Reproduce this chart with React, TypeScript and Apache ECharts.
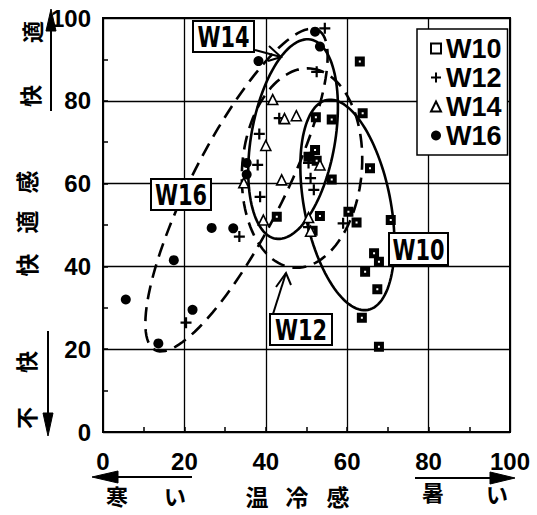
import React, { useEffect, useRef } from 'react';
import * as echarts from 'echarts';

// ---- data ----
const xTicks = [0, 20, 40, 60, 80, 100];
const yTicks = [0, 20, 40, 60, 80, 100];
const seriesNames = ['W10', 'W12', 'W14', 'W16'];

const w10: number[][] = [
  [63.1, 89.5], [63.8, 77.0], [56.2, 75.5], [52.3, 76.0], [52.1, 68.1], [50.5, 66.5],
  [52.5, 65.5], [65.6, 63.7], [56.2, 61.0], [53.3, 52.2], [51.5, 48.6], [42.7, 52.0],
  [60.3, 53.2], [62.3, 50.6], [70.7, 51.2], [66.6, 43.2], [67.8, 41.1], [64.4, 38.7],
  [67.4, 34.5], [63.6, 27.6], [67.8, 20.6],
];
const w12: number[][] = [
  [54.5, 97.5], [52.5, 87.0], [43.3, 75.8], [38.4, 72.0], [38.0, 64.5], [38.6, 56.8],
  [33.5, 47.2], [20.4, 26.4], [51.0, 61.3], [51.8, 58.5], [59.0, 50.4], [50.5, 49.5],
  [50.5, 65.0],
];
const w14: number[][] = [
  [41.7, 80.3], [44.6, 75.7], [47.5, 76.4], [40.0, 69.2], [43.9, 60.9], [34.6, 60.2],
  [53.3, 64.5], [39.4, 51.2], [50.5, 51.8], [51.0, 48.5],
];
const w16: number[][] = [
  [5.6, 32.0], [13.6, 21.4], [17.4, 41.5], [22.0, 29.5], [26.7, 49.3], [32.0, 49.2],
  [35.3, 62.2], [35.3, 65.0], [38.2, 89.6], [52.1, 96.7], [53.3, 93.1], [50.8, 66.5],
];

// ellipses: [topX, topY, bottomX, bottomY, halfWidth (x units)]
const ellipseNames = ['W10', 'W12', 'W14', 'W16'];
const ellipseData: number[][] = [
  [55.0, 80.2, 65.1, 29.5, 10.6],
  [51.0, 87.8, 46.8, 39.7, 14.7],
  [51.0, 94.8, 42.4, 46.7, 10.3],
  [52.8, 97.1, 12.8, 19.8, 11.3],
];
const ellipseDashed = [false, true, false, true];

const SANS = "'Liberation Sans', Arial, sans-serif";
const WIDE = "'DejaVu Sans', sans-serif";
const CJK = "'Noto Sans CJK JP', sans-serif";

const PLUS = 'path://M4,0H6V4H10V6H6V10H4V6H0V4H4Z';

function labelBox(x: number, y: number, w: number, h: number, text: string) {
  return {
    type: 'group',
    z: 100,
    children: [
      { type: 'rect', shape: { x, y, width: w, height: h }, style: { fill: '#fff', stroke: '#000', lineWidth: 2 }, z: 100 },
      {
        type: 'text', x: x + w / 2, y: y + h / 2 + 1, z: 101, scaleX: 0.72,
        style: { text, fontSize: 29, fontWeight: 'bold', fontFamily: WIDE, fill: '#000', align: 'center', verticalAlign: 'middle', textAlign: 'center', textVerticalAlign: 'middle' },
      },
    ],
  };
}

function rotChar(x: number, y: number, ch: string, size = 22) {
  return {
    type: 'text', x, y, rotation: Math.PI / 2, z: 100,
    style: { text: ch, fontSize: size, fontWeight: 'bold', fontFamily: CJK, fill: '#000', align: 'center', verticalAlign: 'middle', textAlign: 'center', textVerticalAlign: 'middle' },
  };
}

function hChar(x: number, y: number, ch: string, size = 22) {
  return {
    type: 'text', x, y, z: 100,
    style: { text: ch, fontSize: size, fontWeight: 'bold', fontFamily: CJK, fill: '#000', align: 'center', verticalAlign: 'middle', textAlign: 'center', textVerticalAlign: 'middle' },
  };
}

function line(points: number[][], w = 2) {
  return { type: 'polyline', z: 100, shape: { points }, style: { stroke: '#000', lineWidth: w, fill: 'none' } };
}
function head(points: number[][]) {
  return { type: 'polygon', z: 100, shape: { points }, style: { fill: '#000', stroke: '#000', lineWidth: 1 } };
}

export default function App() {
  const ref = useRef<HTMLDivElement>(null);
  useEffect(() => {
    if (!ref.current) return;
    const chart = echarts.init(ref.current, undefined, { renderer: 'svg' });
    const axisCommon = {
      type: 'value',
      min: 0,
      max: 100,
      interval: 20,
      axisLine: { show: true, lineStyle: { color: '#000', width: 2 } },
      axisTick: { show: true, inside: true, length: 5, lineStyle: { color: '#000', width: 1.5 } },
      minorTick: { show: true, splitNumber: 2, length: 5, lineStyle: { color: '#000', width: 1.5 } },
      splitLine: { show: true, lineStyle: { color: '#000', width: 1.3 } },
    };
    const labelStyle = { fontSize: 24, fontWeight: 'bold', fontFamily: SANS, color: '#000' };
    const option: any = {
      animation: false,
      backgroundColor: '#fff',
      grid: { left: 103, top: 18, width: 407, height: 414, show: true, borderColor: '#000', borderWidth: 2, backgroundColor: 'transparent' },
      xAxis: {
        ...axisCommon,
        axisLabel: { ...labelStyle, margin: 17, formatter: (v: number) => (xTicks.includes(v) ? String(v) : '') },
      },
      yAxis: {
        ...axisCommon,
        axisLabel: { ...labelStyle, margin: 12, formatter: (v: number) => (yTicks.includes(v) ? String(v) : '') },
      },
      legend: {
        data: seriesNames,
        orient: 'vertical',
        left: 417,
        top: 29,
        padding: [6, 6, 6, 13],
        itemGap: 2,
        itemWidth: 10,
        itemHeight: 10,
        borderColor: '#000',
        borderWidth: 1.5,
        backgroundColor: '#fff',
        textStyle: { fontSize: 27, lineHeight: 24, fontWeight: 'bold', fontFamily: SANS, color: '#000' },
        z: 50,
      },
      series: [
        {
          type: 'custom',
          name: 'ellipses',
          coordinateSystem: 'cartesian2d',
          z: 1,
          silent: true,
          encode: { x: [0, 2], y: [1, 3] },
          data: ellipseData,
          renderItem: (params: any, api: any) => {
            const i = params.dataIndex;
            const p1 = api.coord([api.value(0), api.value(1)]);
            const p2 = api.coord([api.value(2), api.value(3)]);
            const unit = api.size([1, 0])[0];
            const b = api.value(4) * unit;
            const cx = (p1[0] + p2[0]) / 2;
            const cy = (p1[1] + p2[1]) / 2;
            const dx = p1[0] - p2[0];
            const dy = p1[1] - p2[1];
            const a = Math.sqrt(dx * dx + dy * dy) / 2;
            const ux = dx / (2 * a);
            const uy = dy / (2 * a);
            const nx = -uy;
            const ny = ux;
            const pts: number[][] = [];
            const N = 120;
            for (let k = 0; k < N; k++) {
              const t = (k / N) * Math.PI * 2;
              const c = Math.cos(t) * a;
              const s = Math.sin(t) * b;
              pts.push([cx + ux * c + nx * s, cy + uy * c + ny * s]);
            }
            return {
              type: 'polygon',
              shape: { points: pts },
              style: {
                fill: 'none',
                stroke: '#000',
                lineWidth: 2.6,
                lineDash: ellipseDashed[i] ? [14, 8] : null,
              },
            };
          },
        },
        {
          type: 'scatter', name: 'W10', data: w10, z: 3, symbol: 'rect', symbolSize: 6,
          itemStyle: { color: '#fff', borderColor: '#000', borderWidth: 4, opacity: 1 },
        },
        {
          type: 'scatter', name: 'W12', data: w12, z: 3, symbol: PLUS, symbolSize: 11,
          itemStyle: { color: '#000', opacity: 1 },
        },
        {
          type: 'scatter', name: 'W14', data: w14, z: 3, symbol: 'triangle', symbolSize: 10,
          itemStyle: { color: '#fff', borderColor: '#000', borderWidth: 1.6, opacity: 1 },
        },
        {
          type: 'scatter', name: 'W16', data: w16, z: 3, symbol: 'circle', symbolSize: 10,
          itemStyle: { color: '#000', opacity: 1 },
        },
      ],
      graphic: [
        labelBox(193, 21, 61, 31, 'W14'),
        labelBox(151, 179, 60, 31, 'W16'),
        labelBox(389, 233, 59, 32, 'W10'),
        labelBox(270, 314, 62, 31, 'W12'),
        // W14 arrow
        line([[255, 50], [281, 57]], 2),
        line([[269, 46], [281, 57], [268, 61]], 2),
        // W12 arrow
        line([[273, 314], [286, 273]], 2),
        line([[276, 287], [286, 273], [291, 285]], 2),
        // y-axis side labels
        rotChar(31, 32, '適'),
        rotChar(29, 96, '快'),
        rotChar(26, 182, '感', 23),
        rotChar(26, 222, '適', 23),
        rotChar(26, 265, '快', 23),
        rotChar(25, 362, '快'),
        rotChar(25, 418, '不'),
        line([[51, 111], [51, 28]], 2),
        head([[51, 9], [46, 31], [56, 31]]),
        line([[48, 331], [48, 415]], 2),
        head([[48, 436], [43, 413], [53, 413]]),
        // x-axis side labels
        hChar(117, 495, '寒'),
        hChar(175, 495, 'い'),
        hChar(257, 496, '温', 23),
        hChar(297, 496, '冷', 23),
        hChar(338, 496, '感', 23),
        hChar(433, 491, '暑'),
        hChar(497, 493, 'い'),
        line([[192, 477], [112, 477]], 2),
        head([[92, 477], [118, 471], [118, 483]]),
        line([[415, 478], [494, 478]], 2),
        head([[515, 478], [490, 472], [490, 484]]),
      ],
    };
    chart.setOption(option);
    return () => chart.dispose();
  }, []);
  return <div ref={ref} style={{ position: 'fixed', left: 0, top: 0, width: 537, height: 515, background: '#fff' }} />;
}
